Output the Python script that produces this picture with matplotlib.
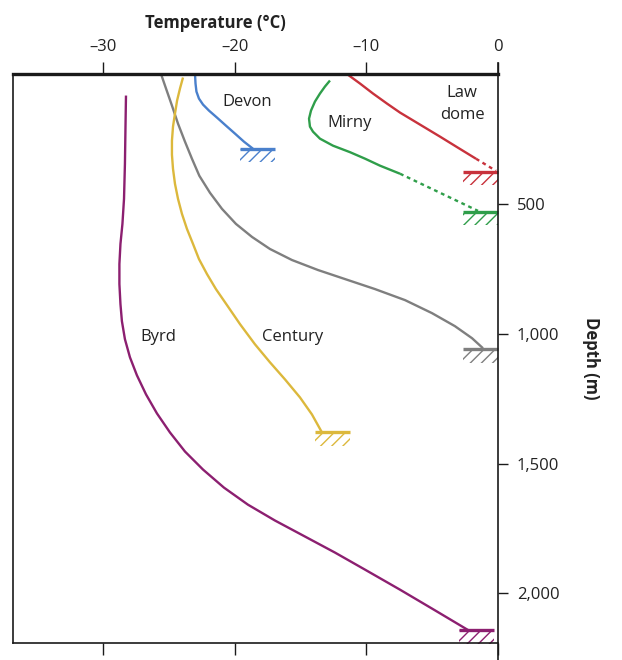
import matplotlib
matplotlib.use("Agg")
import matplotlib.pyplot as plt
from matplotlib.patches import Rectangle

plt.rcParams['font.family'] = ['Open Sans', 'DejaVu Sans']
plt.rcParams['hatch.linewidth'] = 1.0

# ---------------- data ----------------
# Devon
devon_T = [-23.01, -22.97, -22.90, -22.71, -22.40, -21.95, -21.34, -20.66, -19.97, -19.29, -18.61]
devon_D = [0, 36.7, 67.6, 94.6, 117.8, 140.9, 167.9, 198.8, 229.7, 260.6, 287.6]
# Law dome (solid measured part, dotted extrapolation)
law_T = [-11.47, -10.48, -9.49, -8.43, -7.44, -5.92, -4.40, -3.04, -1.67]
law_D = [0, 36.7, 75.3, 113.9, 148.6, 194.9, 241.3, 283.8, 326.3]
law_ext_T = [-1.67, -0.15]
law_ext_D = [326.3, 373]
# Mirny
mirny_T = [-12.76, -13.14, -13.52, -13.90, -14.20, -14.35, -14.28, -14.05, -13.52,
           -12.53, -11.24, -10.10, -8.96, -7.44]
mirny_D = [25.1, 48.3, 75.3, 106.2, 140.9, 172, 202.7, 222, 249,
           276, 301, 326, 353, 384]
mirny_ext_T = [-7.44, -1.52]
mirny_ext_D = [384, 527]
# Unlabelled grey profile
grey_T = [-25.59, -25.21, -24.76, -24.30, -23.77, -23.24, -22.68, -21.87, -20.96, -19.90,
          -18.68, -17.32, -15.65, -13.67, -11.62, -9.34, -7.06, -5.01, -3.27, -1.97, -1.14]
grey_D = [0, 56, 121.6, 191.1, 260.6, 326.3, 391.9, 457.5, 519.3, 577.2,
          627.4, 673.7, 716.2, 754.8, 789.6, 828.2, 870.7, 920.9, 971.0, 1017.4, 1056]
# Camp Century
century_T = [-23.92, -24.15, -24.37, -24.53, -24.68, -24.76, -24.76, -24.68, -24.53, -24.30,
             -24.00, -23.62, -23.16, -22.71, -22.10, -21.42, -20.58, -19.59, -18.46, -17.32,
             -16.18, -15.04, -14.13, -13.37]
century_D = [13.5, 56, 102.3, 152.5, 202.7, 256.8, 310.8, 364.9, 422.8, 480.7,
             538.6, 596.5, 654.4, 712.4, 770.3, 828.2, 890, 963.3, 1040.5, 1110,
             1175.7, 1245.2, 1310.8, 1380]
# Byrd
byrd_T = [-28.25, -28.29, -28.33, -28.40, -28.52, -28.67, -28.75, -28.75, -28.67, -28.56,
          -28.33, -27.95, -27.42, -26.73, -25.90, -24.91, -23.77, -22.40, -20.81, -18.99,
          -16.94, -14.66, -12.38, -10.10, -7.44, -4.86, -2.28]
byrd_D = [83, 210.4, 345.6, 480.7, 577.2, 654.4, 731.7, 808.9, 886.1, 951.7,
          1021.2, 1090.7, 1160.2, 1233.6, 1306.9, 1380.3, 1453.7, 1523.2, 1592.7, 1658.3,
          1719.3, 1781, 1842.8, 1908.5, 1985.7, 2063, 2140.9]

# bedrock markers: depth and temperature span of the hatched base symbol
bed_names = ['Devon', 'Law dome', 'Mirny', 'Grey', 'Century', 'Byrd']
bed_depth = [288, 376, 531, 1060, 1380, 2141]
bed_T_left = [-19.6, -2.66, -2.66, -2.66, -13.9, -2.96]
bed_T_right = [-16.9, 0.0, 0.0, 0.0, -11.24, -0.30]

x_ticks = [-30, -20, -10, 0]
x_ticklabels = ['–30', '–20', '–10', '0']
y_ticks = [500, 1000, 1500, 2000]
y_ticklabels = ['500', '1,000', '1,500', '2,000']

colors = {
    'Devon': '#4a80cc',
    'Law dome': '#c8323c',
    'Mirny': '#2f9e4a',
    'Grey': '#7f7f7f',
    'Century': '#dcb83c',
    'Byrd': '#8c1f70',
}

# ---------------- figure ----------------
fig = plt.figure(figsize=(6.22, 6.6), dpi=100)
ax = fig.add_axes([13 / 622, 1 - 643 / 660, 485 / 622, 569 / 660])
ax.set_xlim(-36.83, 0)
ax.set_ylim(2191, 0)

lw = 1.7
kw = dict(lw=lw, solid_capstyle='butt', solid_joinstyle='round')
ax.plot(devon_T, devon_D, color=colors['Devon'], **kw)
ax.plot(law_T, law_D, color=colors['Law dome'], **kw)
ax.plot(law_ext_T, law_ext_D, color=colors['Law dome'], lw=lw, ls=(0, (1.6, 1.6)))
ax.plot(mirny_T, mirny_D, color=colors['Mirny'], **kw)
ax.plot(mirny_ext_T, mirny_ext_D, color=colors['Mirny'], lw=lw, ls=(0, (1.6, 1.6)))
ax.plot(grey_T, grey_D, color=colors['Grey'], **kw)
ax.plot(century_T, century_D, color=colors['Century'], **kw)
ax.plot(byrd_T, byrd_D, color=colors['Byrd'], **kw)

hatch_h = 52  # metres
for name, d, tl, tr in zip(bed_names, bed_depth, bed_T_left, bed_T_right):
    c = colors[name]
    ax.add_patch(Rectangle((tl, d), tr - tl, hatch_h, fill=False, hatch='///',
                           edgecolor=c, lw=0, clip_on=False))
    ax.plot([tl, tr], [d, d], color=c, lw=2.4, solid_capstyle='butt', clip_on=False)

# curve labels
lab_kw = dict(fontsize=12, color='#222222', ha='center', va='center')
ax.text(-19.06, 106, 'Devon', **lab_kw)
ax.text(-11.24, 189, 'Mirny', **lab_kw)
ax.text(-2.73, 117, 'Law\ndome', linespacing=1.5, **lab_kw)
ax.text(-25.82, 1014, 'Byrd', **lab_kw)
ax.text(-15.57, 1014, 'Century', **lab_kw)

# axes styling
for s in ['left', 'bottom']:
    ax.spines[s].set_linewidth(1.2)
    ax.spines[s].set_color('#1a1a1a')
ax.spines['top'].set_linewidth(2.4)
ax.spines['top'].set_color('#1a1a1a')
ax.spines['right'].set_visible(False)
ax.plot([1, 1], [-0.03, 1.02], transform=ax.transAxes, color='#1a1a1a',
        lw=1.2, clip_on=False)

ax.set_xticks(x_ticks)
ax.set_xticklabels(x_ticklabels)
ax.tick_params(axis='x', top=True, bottom=True, labeltop=True, labelbottom=False,
               direction='out', length=8.6, width=1.0, color='#1a1a1a',
               labelsize=12, labelcolor='#222222', pad=5)
ax.set_yticks(y_ticks)
ax.set_yticklabels(y_ticklabels)
ax.tick_params(axis='y', left=False, right=True, labelleft=False, labelright=True,
               direction='out', length=7.5, width=1.0, color='#1a1a1a',
               labelsize=12, labelcolor='#222222', pad=6)

ax.xaxis.set_label_position('top')
ax.set_xlabel('Temperature (°C)', fontsize=12, fontweight='bold', color='#222222',
              labelpad=8, x=(215 - 13) / 485)
ax.yaxis.set_label_position('right')
ax.set_ylabel('Depth (m)', fontsize=12, fontweight='bold', color='#222222',
              rotation=-90, labelpad=16, va='bottom')

fig.savefig('out.png', dpi=100)
